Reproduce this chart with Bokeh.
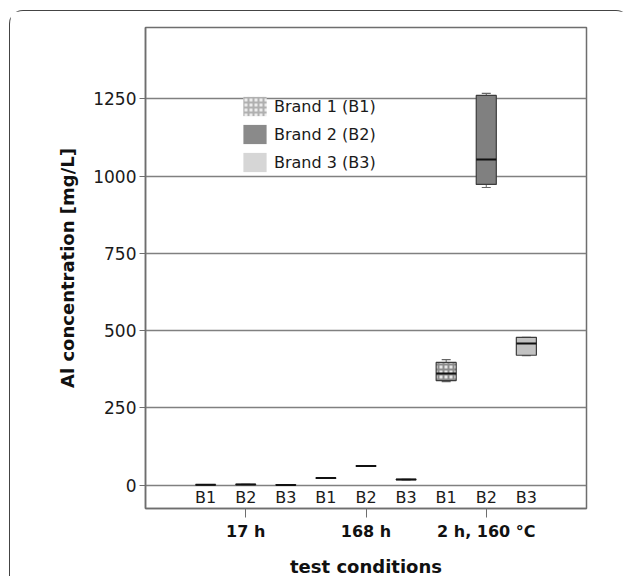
from bokeh.plotting import figure
from bokeh.models import (FactorRange, Range1d, FixedTicker, CategoricalAxis,
                          ColumnDataSource, Legend, LegendItem)
from bokeh.core.properties import value
from bokeh.embed import file_html
from bokeh.resources import INLINE

groups = ["17 h", "168 h", "2 h, 160 °C"]
brands = ["B1", "B2", "B3"]
brand_names = ["Brand 1 (B1)", "Brand 2 (B2)", "Brand 3 (B3)"]

# Box plot statistics per brand, one value per test condition (17 h, 168 h, 2 h 160 °C)
whisker_low = {"B1": [0.3, 21.5, 335], "B2": [1.5, 60.0, 963], "B3": [0.2, 16.5, 419]}
q1 = {"B1": [0.4, 22.0, 338], "B2": [1.8, 61.0, 973], "B3": [0.3, 17.0, 420]}
median = {"B1": [0.5, 22.5, 361], "B2": [2.0, 61.5, 1054], "B3": [0.4, 17.5, 458]}
q3 = {"B1": [0.6, 23.0, 397], "B2": [2.3, 62.0, 1261], "B3": [0.5, 18.0, 478]}
whisker_high = {"B1": [0.7, 23.5, 406], "B2": [2.5, 63.0, 1268], "B3": [0.6, 18.5, 478]}

y_ticks = [0, 250, 500, 750, 1000, 1250]
y_start, y_end = -76, 1481

box_fill = {"B1": "#e8e8e8", "B2": "#808080", "B3": "#c2c2c2"}
legend_fill = {"B1": "#ececec", "B2": "#8a8a8a", "B3": "#d6d6d6"}
hatch = {"B1": "+", "B2": " ", "B3": " "}

factors = [(g, b) for g in groups for b in brands]

p = figure(
    x_range=FactorRange(*factors, group_padding=0, factor_padding=0,
                        range_padding=1, range_padding_units="absolute"),
    y_range=Range1d(y_start, y_end),
    frame_width=441, frame_height=481,
    min_border_left=135, min_border_top=16, min_border_right=43, min_border_bottom=64,
    x_axis_location=None,
    output_backend="svg", toolbar_location=None,
    background_fill_color="white", border_fill_color="white",
    styles={"margin-left": "9px", "margin-top": "10px",
            "border": "1.5px solid #444444", "border-bottom": "none",
            "border-radius": "14px 14px 0 0"},
)
p.outline_line_color = "#6e6e6e"
p.outline_line_width = 1.5

# grid
p.ygrid.ticker = FixedTicker(ticks=y_ticks)
p.ygrid.grid_line_color = "#808080"
p.ygrid.grid_line_width = 1.5
p.xgrid.visible = False

# y axis
yax = p.yaxis[0]
yax.ticker = FixedTicker(ticks=y_ticks)
yax.axis_line_color = "#6e6e6e"
yax.axis_line_width = 1.5
yax.major_tick_line_color = "#6e6e6e"
yax.major_tick_out = 6
yax.major_tick_in = 0
yax.minor_tick_line_color = None
yax.major_label_text_font = "DejaVu Sans"
yax.major_label_text_font_size = "17px"
yax.major_label_text_color = "#1a1a1a"
yax.major_label_standoff = 3
yax.axis_label = "Al concentration [mg/L]"
yax.axis_label_text_font = "DejaVu Sans"
yax.axis_label_text_font_style = "bold"
yax.axis_label_text_font_size = "18px"
yax.axis_label_text_color = "#111111"
yax.axis_label_standoff = 12

# group axis (test conditions)
p.extra_x_ranges = {"groups": FactorRange(*groups, range_padding=1/3,
                                          range_padding_units="absolute")}
gax = CategoricalAxis(x_range_name="groups")
gax.axis_line_color = "#6e6e6e"
gax.axis_line_width = 1.5
gax.major_tick_line_color = "#6e6e6e"
gax.major_tick_out = 9
gax.major_tick_in = 0
gax.major_label_text_font = "DejaVu Sans"
gax.major_label_text_font_style = "bold"
gax.major_label_text_font_size = "16px"
gax.major_label_text_color = "#111111"
gax.major_label_standoff = 4
gax.axis_label = "test conditions"
gax.axis_label_text_font = "DejaVu Sans"
gax.axis_label_text_font_style = "bold"
gax.axis_label_text_font_size = "18px"
gax.axis_label_text_color = "#111111"
gax.axis_label_standoff = 12
p.add_layout(gax, "below")

# brand labels under the zero line
lab_src = ColumnDataSource(dict(x=factors, base=[0] * len(factors),
                                text=[f[1] for f in factors]))
p.text(x="x", y="base", text="text", source=lab_src, text_align="center",
       text_baseline="top", y_offset=3, text_font=value("DejaVu Sans"),
       text_font_size="16px", text_color="#1a1a1a")

legend_items = []
for b, name in zip(brands, brand_names):
    src = ColumnDataSource(dict(
        x=[(g, b) for g in groups],
        lo=whisker_low[b], q1=q1[b], med=median[b], q3=q3[b], hi=whisker_high[b],
    ))
    # whiskers
    p.segment(x0="x", y0="q3", x1="x", y1="hi", source=src, line_color="#666666", line_width=1)
    p.segment(x0="x", y0="lo", x1="x", y1="q1", source=src, line_color="#666666", line_width=1)
    p.scatter(x="x", y="hi", source=src, marker="dash", size=9, line_color="#666666", line_width=1.2)
    p.scatter(x="x", y="lo", source=src, marker="dash", size=9, line_color="#666666", line_width=1.2)
    # boxes
    p.vbar(x="x", bottom="q1", top="q3", width=0.5, source=src,
           fill_color=box_fill[b], line_color="#3c3c3c", line_width=1.2,
           hatch_pattern=hatch[b], hatch_color="#8c8c8c", hatch_scale=5, hatch_weight=2)
    # medians
    p.rect(x="x", y="med", width=0.5, height=2, height_units="screen", source=src,
           fill_color="#111111", line_color=None)
    # legend-only renderer
    lr = p.vbar(x="x", bottom="q1", top="q3", width=0.5, source=src,
                fill_color=legend_fill[b], line_color=None,
                hatch_pattern=hatch[b], hatch_color="#b0b0b0", hatch_scale=5, hatch_weight=2,
                visible=False)
    legend_items.append(LegendItem(label=name, renderers=[lr]))

legend = Legend(items=legend_items, location=(95, 334), padding=0, margin=0, spacing=4,
                glyph_width=29, glyph_height=24, label_standoff=5,
                label_text_font="DejaVu Sans", label_text_font_size="16px",
                label_text_color="#1a1a1a", border_line_color=None,
                background_fill_alpha=0)
p.add_layout(legend)

open("out.html", "w").write(file_html(p, INLINE))
